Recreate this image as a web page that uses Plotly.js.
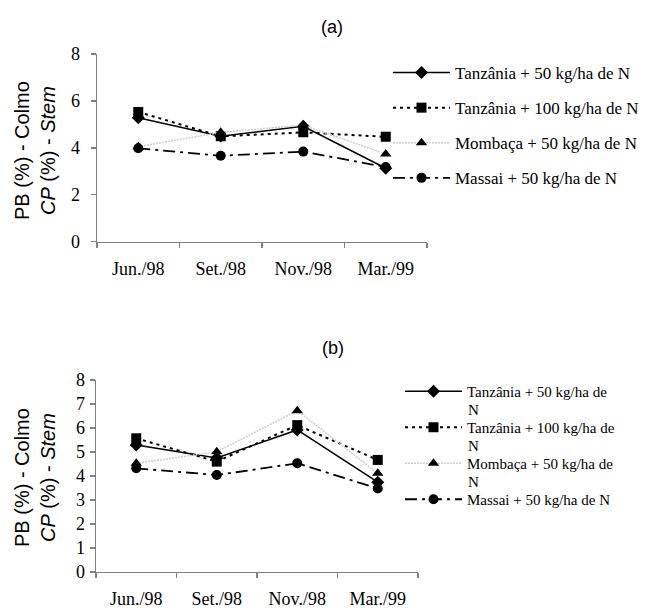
<!DOCTYPE html>
<html><head><meta charset="utf-8">
<script src="https://cdn.plot.ly/plotly-3.0.1.min.js"></script>
<style>html,body{margin:0;padding:0;background:#fff}</style>
</head><body>
<div id="chart" style="width:651px;height:610px"></div>
<script>
const categories = ['Jun./98', 'Set./98', 'Nov./98', 'Mar./99'];
const seriesNames = ['Tanzânia + 50 kg/ha de N', 'Tanzânia + 100 kg/ha de N', 'Mombaça + 50 kg/ha de N', 'Massai + 50 kg/ha de N'];
const seriesNamesB = ['Tanzânia + 50 kg/ha de', 'Tanzânia + 100 kg/ha de', 'Mombaça + 50 kg/ha de', 'Massai + 50 kg/ha de N'];
const wrapText = 'N';
// panel (a)
const aTanz50 = [5.28, 4.50, 4.92, 3.13];
const aTanz100 = [5.53, 4.49, 4.66, 4.47];
const aMomb50 = [4.05, 4.66, 4.97, 3.74];
const aMass50 = [3.98, 3.66, 3.84, 3.18];
// panel (b)
const bTanz50 = [5.29, 4.75, 5.92, 3.74];
const bTanz100 = [5.57, 4.60, 6.12, 4.67];
const bMomb50 = [4.53, 5.01, 6.72, 4.11];
const bMass50 = [4.32, 4.04, 4.53, 3.48];
const yTicksA = [0, 2, 4, 6, 8];
const yTicksB = [0, 1, 2, 3, 4, 5, 6, 7, 8];

const styles = [
  {line: {color: '#000', width: 1.5, dash: 'solid'}, marker: {symbol: 'diamond', size: 10, color: '#000'}},
  {line: {color: '#000', width: 2, dash: '3px,4px'}, marker: {symbol: 'square', size: 10, color: '#000'}},
  {line: {color: '#cfcfcf', width: 1.6, dash: '2px,1px'}, marker: {symbol: 'triangle-up', size: 10, color: '#000'}},
  {line: {color: '#000', width: 1.8, dash: '12px,5px,3px,5px'}, marker: {symbol: 'circle', size: 10, color: '#000'}}
];
const aData = [aTanz50, aTanz100, aMomb50, aMass50];
const bData = [bTanz50, bTanz100, bMomb50, bMass50];
const traces = [];
aData.forEach((ys, i) => traces.push({
  x: categories, y: ys, type: 'scatter', mode: 'lines+markers', name: seriesNames[i],
  line: styles[i].line, marker: styles[i].marker, xaxis: 'x', yaxis: 'y',
  legend: 'legend', legendgroup: 'a' + i
}));
bData.forEach((ys, i) => traces.push({
  x: categories, y: ys, type: 'scatter', mode: 'lines+markers', name: seriesNamesB[i],
  line: styles[i].line, marker: styles[i].marker, xaxis: 'x2', yaxis: 'y2',
  legend: 'legend2', legendgroup: 'b' + i
}));

const W = 651, H = 610;
const px = v => v / W, py = v => 1 - v / H;
const serif = 'Liberation Serif, Times New Roman, serif';
const sans = 'Liberation Sans, Arial, sans-serif';
const axisCommon = {
  showgrid: false, zeroline: false, showline: true, linecolor: '#7f7f7f', linewidth: 1.3,
  ticks: 'outside', ticklen: 5, tickcolor: '#7f7f7f', tickwidth: 1.3,
  tickfont: {family: serif, size: 18, color: '#000'}, fixedrange: true
};
const legendCommon = {
  font: {family: serif, size: 17, color: '#000'}, bgcolor: 'rgba(0,0,0,0)', borderwidth: 0,
  xanchor: 'left', yanchor: 'top', traceorder: 'grouped', itemwidth: 57, itemclick: false
};
const yTitle = 'PB (%) - Colmo<br><i>CP</i> (%) - <i>Stem</i>';
const ann = (text, x, y, extra) => Object.assign({text: text, xref: 'paper', yref: 'paper', x: px(x), y: py(y),
  xanchor: 'center', yanchor: 'middle', showarrow: false}, extra);
const layout = {
  width: W, height: H, margin: {l: 0, r: 0, t: 0, b: 0},
  paper_bgcolor: '#fff', plot_bgcolor: '#fff', showlegend: true,
  xaxis: Object.assign({}, axisCommon, {domain: [px(97), px(427)], anchor: 'y', type: 'category',
    tickson: 'boundaries', range: [-0.5, 3.5], ticklabelstandoff: 10}),
  yaxis: Object.assign({}, axisCommon, {domain: [py(241.7), py(54)], anchor: 'x', range: [0, 8],
    tickvals: yTicksA, ticklabelstandoff: 7}),
  xaxis2: Object.assign({}, axisCommon, {domain: [px(96), px(418)], anchor: 'y2', type: 'category',
    tickson: 'boundaries', range: [-0.5, 3.5], ticklabelstandoff: 10}),
  yaxis2: Object.assign({}, axisCommon, {domain: [py(572), py(380)], anchor: 'x2', range: [0, 8],
    tickvals: yTicksB, ticklabelstandoff: 1}),
  legend: Object.assign({}, legendCommon, {x: px(388), y: py(55), tracegroupgap: 10}),
  legend2: Object.assign({}, legendCommon, {x: px(400), y: py(375), tracegroupgap: 13.5,
    font: {family: serif, size: 15, color: '#000'}}),
  annotations: [
    ann('(a)', 332, 27, {font: {family: sans, size: 18, color: '#000'}}),
    ann('(b)', 333, 348, {font: {family: sans, size: 18, color: '#000'}}),
    ann(yTitle, 35, 151, {textangle: -90, font: {family: sans, size: 20, color: '#000'}}),
    ann(yTitle, 35, 478, {textangle: -90, font: {family: sans, size: 20, color: '#000'}})
  ].concat([0, 1, 2].map(i => ann(wrapText, 466, 410 + 36 * i,
    {xanchor: 'left', font: {family: serif, size: 15, color: '#000'}})))
};
Plotly.newPlot('chart', traces, layout, {displayModeBar: false, staticPlot: true});
</script>
</body></html>
